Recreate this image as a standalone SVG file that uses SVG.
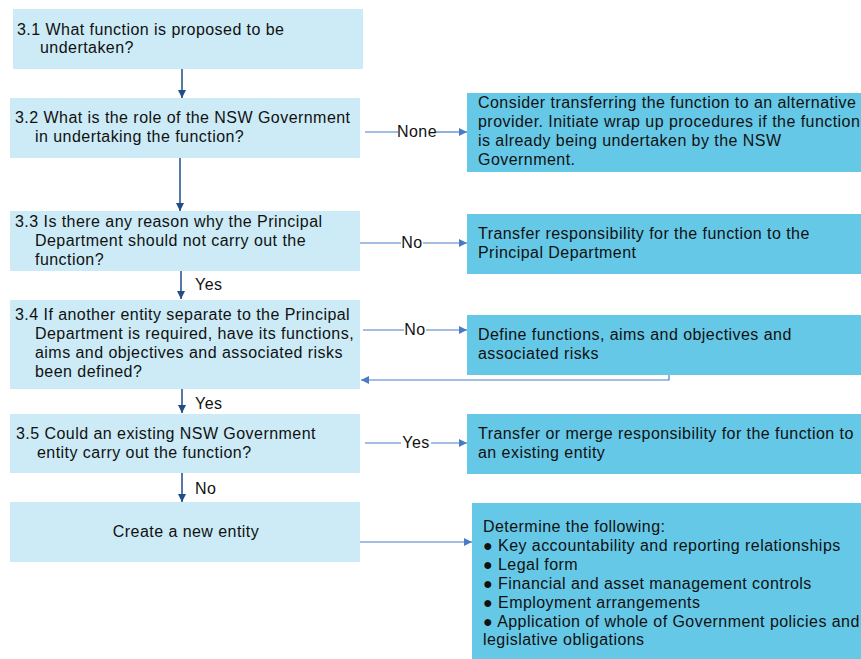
<svg xmlns="http://www.w3.org/2000/svg" width="861" height="659" viewBox="0 0 861 659">
<defs>
<marker id="ad" viewBox="0 0 10 10" refX="10" refY="5" markerWidth="8" markerHeight="8" markerUnits="userSpaceOnUse" orient="auto"><path d="M0,0 L10,5 L0,10 z" fill="#1F4E86"/></marker>
<marker id="ab" viewBox="0 0 10 10" refX="10" refY="5" markerWidth="9" markerHeight="8" markerUnits="userSpaceOnUse" orient="auto"><path d="M0,0 L10,5 L0,10 z" fill="#4A7CC6"/></marker>
</defs>
<style>
text{font-family:"Liberation Sans",Arial,sans-serif;font-size:16px;letter-spacing:0.45px;fill:#111}
.q{fill:#CCEBF6}
.a{fill:#66C8E7}
.vd{stroke:#1F4E86;stroke-width:1.5;fill:none;marker-end:url(#ad)}
.hb{stroke:#4A7CC6;stroke-width:1.2;fill:none}
.hba{stroke:#4A7CC6;stroke-width:1.2;fill:none;marker-end:url(#ab)}
</style>
<rect width="861" height="659" fill="#fff"/>
<g id="q31"><rect class="q" x="13" y="9" width="350" height="60"/><text x="17" y="35">3.1 What function is proposed to be</text><text x="40" y="53">undertaken?</text></g>
<g id="q32"><rect class="q" x="10" y="98" width="350" height="60"/><text x="15" y="123">3.2 What is the role of the NSW Government</text><text x="35" y="142">in undertaking the function?</text></g>
<g id="q33"><rect class="q" x="10" y="211" width="350" height="60"/><text x="15" y="227">3.3 Is there any reason why the Principal</text><text x="35" y="246">Department should not carry out the</text><text x="35" y="265">function?</text></g>
<g id="q34"><rect class="q" x="10" y="300" width="350" height="89"/><text x="15" y="320">3.4 If another entity separate to the Principal</text><text x="35" y="339">Department is required, have its functions,</text><text x="35" y="358">aims and objectives and associated risks</text><text x="35" y="377">been defined?</text></g>
<g id="q35"><rect class="q" x="10" y="414" width="350" height="59"/><text x="16" y="439">3.5 Could an existing NSW Government</text><text x="37" y="458">entity carry out the function?</text></g>
<g id="create"><rect class="q" x="10" y="502" width="350" height="60"/><text x="186" y="537" text-anchor="middle">Create a new entity</text></g>
<g id="r1"><rect class="a" x="467" y="93" width="394" height="79"/><text x="478" y="108">Consider transferring the function to an alternative</text><text x="478" y="127">provider. Initiate wrap up procedures if the function</text><text x="478" y="146">is already being undertaken by the NSW</text><text x="478" y="165">Government.</text></g>
<g id="r2"><rect class="a" x="467" y="214" width="394" height="60"/><text x="478" y="239">Transfer responsibility for the function to the</text><text x="478" y="258">Principal Department</text></g>
<g id="r3"><rect class="a" x="467" y="315" width="394" height="60"/><text x="478" y="340">Define functions, aims and objectives and</text><text x="478" y="359">associated risks</text></g>
<g id="r4"><rect class="a" x="467" y="414" width="394" height="60"/><text x="478" y="439">Transfer or merge responsibility for the function to</text><text x="478" y="458">an existing entity</text></g>
<g id="r5"><rect class="a" x="472" y="503" width="389" height="156"/><text x="483" y="532">Determine the following:</text><text x="483" y="551">● Key accountability and reporting relationships</text><text x="483" y="570">● Legal form</text><text x="483" y="589">● Financial and asset management controls</text><text x="483" y="608">● Employment arrangements</text><text x="483" y="627">● Application of whole of Government policies and</text><text x="483" y="645">legislative obligations</text></g>
<g id="connectors">
<path class="vd" d="M182,69 V98"/>
<path class="vd" d="M180,158 V211"/>
<path class="vd" d="M181,271 V299"/>
<text x="195" y="290">Yes</text>
<path class="vd" d="M182,389 V413"/>
<text x="195" y="409">Yes</text>
<path class="vd" d="M182,473 V502"/>
<text x="195" y="494">No</text>
<path class="hb" d="M365,132 H398"/><path class="hba" d="M436,132 H467"/>
<text x="417" y="137" text-anchor="middle">None</text>
<path class="hb" d="M360,243 H401"/><path class="hba" d="M423,243 H467"/>
<text x="412" y="248" text-anchor="middle">No</text>
<path class="hb" d="M363,330 H404"/><path class="hba" d="M426,330 H467"/>
<text x="415" y="335" text-anchor="middle">No</text>
<path class="hba" d="M669,375 V380 H361"/>
<path class="hb" d="M365,443 H401"/><path class="hba" d="M431,443 H467"/>
<text x="416" y="448" text-anchor="middle">Yes</text>
<path class="hba" d="M360,542 H472"/>
</g>
</svg>
